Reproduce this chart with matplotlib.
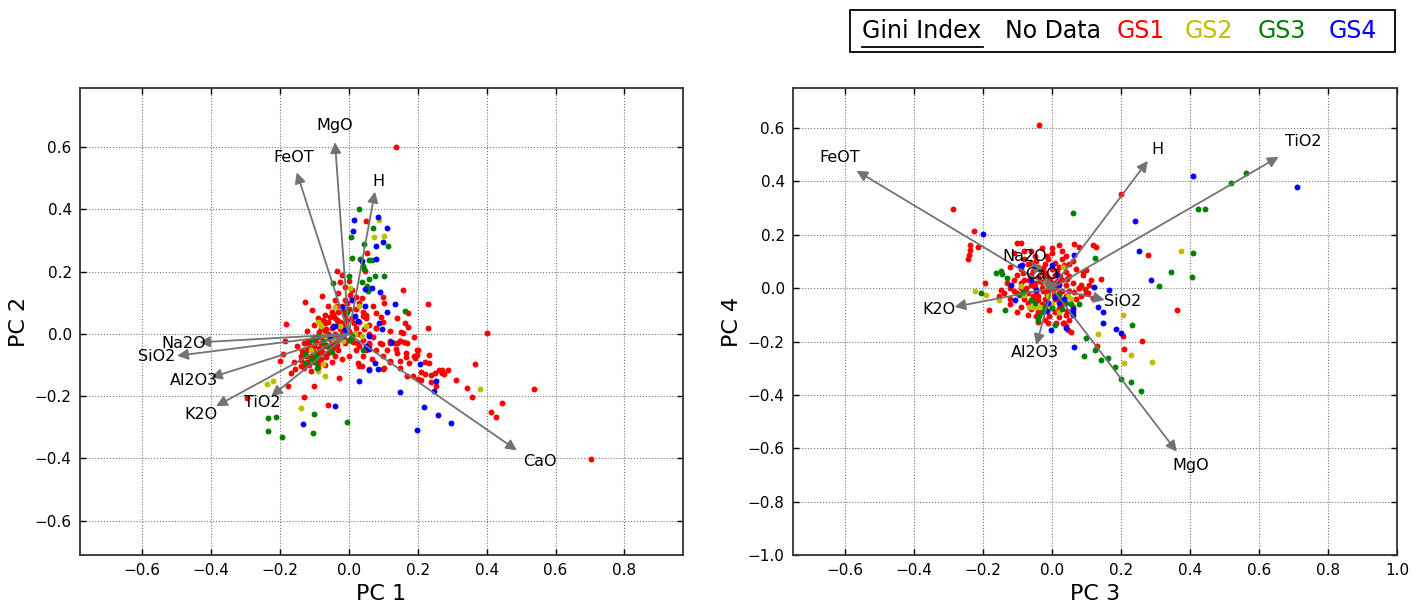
import matplotlib.pyplot as plt
import numpy as np
from matplotlib.patches import Rectangle
from matplotlib.lines import Line2D

# ---------------- data: PC1 / PC2 ----------------
pc12_gs1 = [
    (0.137, 0.60), (0.049, 0.362), (0.054, 0.259), (0.048, 0.202), (-0.035, 0.202), (-0.026, 0.168),
    (-0.078, 0.122), (-0.126, 0.103), (-0.106, 0.078), (0.037, 0.115), (0.102, 0.10), (0.08, 0.067),
    (0.093, 0.056), (-0.181, 0.033), (-0.296, -0.206), (-0.131, -0.204), (-0.059, -0.227), (-0.101, -0.166),
    (-0.177, -0.166), (-0.027, -0.142), (-0.186, -0.022), (-0.20, -0.086), (-0.191, -0.065), (-0.167, -0.124),
    (-0.157, -0.111), (-0.138, -0.102), (0.027, -0.092), (0.037, -0.102), (0.066, -0.081), (0.102, -0.11),
    (0.119, -0.022), (0.148, -0.022), (0.153, 0.005), (0.138, -0.049), (0.095, -0.033), (0.158, 0.141),
    (0.172, 0.066), (0.229, 0.095), (0.163, 0.034), (0.172, 0.023), (0.229, 0.02), (0.158, 0.004),
    (0.189, -0.01), (0.40, 0.003), (0.148, -0.024), (0.16, -0.025), (0.168, -0.03), (0.199, -0.052),
    (0.166, -0.062), (0.232, -0.066), (0.199, -0.069), (0.193, -0.078), (0.166, -0.074), (0.221, -0.09),
    (0.232, -0.093), (0.175, -0.093), (0.15, -0.108), (0.365, -0.095), (0.262, -0.117), (0.27, -0.115),
    (0.27, -0.125), (0.277, -0.128), (0.289, -0.117), (0.21, -0.121), (0.187, -0.136), (0.24, -0.132),
    (0.209, -0.148), (0.312, -0.147), (0.24, -0.155), (0.254, -0.168), (0.343, -0.172), (0.357, -0.202),
    (0.538, -0.176), (0.444, -0.223), (0.413, -0.25), (0.426, -0.267), (0.703, -0.403),
    (0.139, -0.03), (0.119, -0.028), (0.042, 0.058), (0.05, 0.06), (0.06, 0.03), (0.08, 0.02),
    (0.012, -0.027), (0.03, -0.04), (0.05, -0.05), (0.06, -0.035), (0.0, -0.02), (0.03, -0.104),
    (0.06, -0.113), (0.10, -0.113), (0.12, -0.086), (0.15, -0.086), (0.17, -0.135), (0.20, -0.146),
    (0.22, -0.13), (0.25, -0.125), (0.19, -0.07), (0.20, -0.05),
    # dense core
    (-0.02, 0.19), (0.0, 0.17), (-0.01, 0.15), (0.01, 0.14), (-0.03, 0.13), (0.02, 0.12), (-0.04, 0.11),
    (-0.01, 0.11), (0.03, 0.10), (-0.06, 0.09), (-0.02, 0.09), (0.0, 0.08), (0.02, 0.08), (-0.05, 0.07),
    (-0.03, 0.07), (0.04, 0.07), (-0.07, 0.06), (-0.01, 0.06), (0.01, 0.05), (-0.04, 0.05), (-0.09, 0.05),
    (0.05, 0.05), (0.03, 0.04), (-0.06, 0.04), (-0.03, 0.03), (-0.10, 0.03), (-0.08, 0.02), (-0.05, 0.02),
    (-0.01, 0.02), (0.02, 0.02), (-0.12, 0.01), (-0.07, 0.01), (-0.04, 0.0), (-0.02, 0.0), (0.0, 0.01),
    (0.03, 0.0), (-0.09, -0.01), (-0.06, -0.01), (-0.11, -0.02), (-0.03, -0.02), (0.01, -0.02),
    (0.04, -0.02), (-0.08, -0.03), (-0.05, -0.03), (-0.13, -0.03), (-0.01, -0.03), (0.06, -0.03),
    (-0.10, -0.04), (-0.07, -0.04), (-0.03, -0.05), (0.02, -0.05), (-0.15, -0.04), (0.08, -0.05),
    (-0.12, -0.05), (-0.09, -0.06), (-0.06, -0.06), (-0.04, -0.07), (-0.11, -0.07), (-0.14, -0.07),
    (-0.08, -0.08), (-0.10, -0.09), (-0.12, -0.09), (-0.07, -0.10), (-0.05, -0.09), (-0.13, -0.11),
    (-0.09, -0.11), (-0.02, -0.08), (0.0, -0.07), (0.04, -0.07), (-0.16, -0.09), (-0.11, -0.12),
    (0.06, 0.0), (0.08, 0.02), (0.10, 0.04), (0.12, 0.01), (0.07, -0.01), (0.09, -0.03), (0.11, -0.05),
    (0.13, -0.03), (0.10, -0.07), (0.12, -0.09), (0.14, 0.05), (0.10, 0.12), (0.14, -0.06), (0.07, 0.09),
    (-0.06, 0.0), (-0.08, -0.05), (-0.1, -0.01), (-0.045, -0.045), (-0.07, 0.035), (-0.025, 0.04),
    (-0.115, -0.035), (-0.095, -0.075), (-0.065, -0.075), (-0.135, -0.055), (0.015, 0.035),
    (-0.055, 0.055), (-0.035, 0.045), (-0.015, 0.035), (-0.045, 0.025), (-0.025, 0.015), (-0.065, 0.015),
    (-0.085, 0.005), (-0.055, -0.015), (-0.035, -0.005), (-0.015, -0.015), (-0.075, -0.02), (-0.095, -0.025),
    (-0.065, -0.035), (-0.045, -0.025), (-0.105, -0.055), (-0.085, -0.045), (-0.125, -0.07), (-0.105, -0.08),
    (-0.085, -0.09), (-0.115, -0.1), (-0.075, -0.06), (-0.055, -0.05), (-0.035, -0.035), (-0.005, 0.045),
    (-0.015, 0.075), (-0.035, 0.09), (-0.005, 0.1), (0.005, 0.125), (-0.045, 0.06), (-0.075, 0.045),
    (0.015, 0.0), (0.025, -0.03), (0.045, 0.015), (-0.14, -0.085), (-0.09, -0.095), (-0.12, -0.025),
]
pc12_gs2 = [
    (0.087, 0.366), (0.103, 0.315), (0.072, 0.31), (0.004, 0.149), (0.029, 0.09), (-0.237, -0.162),
    (-0.219, -0.151), (-0.138, -0.238), (-0.07, -0.134), (-0.089, -0.118), (-0.089, 0.037), (-0.08, 0.026),
    (-0.07, -0.006), (-0.041, 0.085), (-0.026, 0.026), (-0.017, -0.022), (0.017, 0.0), (0.037, -0.006),
    (-0.046, -0.017), (-0.075, -0.097), (0.381, -0.176), (0.051, 0.026), (-0.11, -0.05),
]
pc12_gs3 = [
    (0.03, 0.40), (0.07, 0.34), (0.006, 0.313), (0.043, 0.288), (0.114, 0.283), (0.01, 0.245),
    (0.033, 0.242), (0.058, 0.238), (0.066, 0.236), (0.041, 0.217), (0.043, 0.21), (0.076, 0.185),
    (0.101, 0.185), (0.002, 0.187), (0.058, 0.178), (0.037, 0.168), (-0.046, 0.164), (0.054, 0.155),
    (0.056, 0.139), (-0.006, 0.071), (-0.235, -0.27), (-0.21, -0.266), (-0.233, -0.311), (-0.193, -0.332),
    (-0.101, -0.257), (-0.105, -0.318), (-0.006, -0.284), (-0.089, -0.006), (-0.106, -0.019),
    (-0.075, -0.027), (-0.058, -0.041), (-0.128, -0.065), (-0.109, -0.081), (-0.094, -0.07),
    (-0.126, -0.092), (-0.099, -0.089), (0.003, -0.021), (0.008, -0.006), (0.042, -0.051),
    (-0.05, -0.059), (-0.093, -0.11), (0.163, 0.075),
]
pc12_gs4 = [
    (0.085, 0.377), (0.015, 0.366), (0.112, 0.341), (0.011, 0.33), (0.099, 0.294), (0.079, 0.283),
    (0.039, 0.235), (0.079, 0.24), (0.048, 0.144), (0.068, 0.149), (0.091, 0.134), (0.01, 0.108),
    (-0.019, 0.088), (0.134, 0.095), (0.046, 0.09), (0.11, 0.071), (0.017, 0.058), (0.027, 0.042),
    (0.088, 0.035), (0.095, 0.015), (0.058, -0.006), (0.122, -0.025), (0.051, -0.038), (0.06, -0.047),
    (0.076, -0.092), (0.06, -0.116), (0.085, -0.113), (0.029, -0.151), (0.15, -0.185), (-0.039, -0.23),
    (-0.132, -0.29), (-0.046, 0.021), (-0.041, 0.026), (-0.055, -0.006), (-0.017, -0.006),
    (-0.012, 0.013), (0.206, -0.097), (0.252, -0.15), (0.247, -0.184), (0.218, -0.235), (0.26, -0.26),
    (0.296, -0.286), (0.199, -0.309),
]
pc12_vars = ["MgO", "FeOT", "H", "Na2O", "SiO2", "Al2O3", "K2O", "TiO2", "CaO"]
pc12_tips = [(-0.04, 0.616), (-0.151, 0.519), (0.076, 0.457), (-0.434, -0.027), (-0.498, -0.07),
             (-0.40, -0.14), (-0.385, -0.232), (-0.225, -0.20), (0.488, -0.374)]
pc12_text = [(-0.04, 0.671), (-0.16, 0.568), (0.087, 0.49), (-0.48, -0.03), (-0.558, -0.072),
             (-0.45, -0.15), (-0.43, -0.26), (-0.25, -0.22), (0.555, -0.41)]

# ---------------- data: PC3 / PC4 ----------------
pc34_gs1 = [
    (-0.036, 0.613), (-0.287, 0.298), (0.20, 0.351), (-0.225, 0.215), (-0.215, 0.156), (-0.237, 0.163),
    (-0.237, 0.144), (-0.241, 0.125), (-0.243, 0.109), (-0.089, 0.169), (0.063, 0.166), (0.078, 0.153),
    (0.12, 0.163), (0.128, 0.155), (-0.193, 0.019), (-0.181, -0.081), (0.143, 0.035), (0.112, 0.031),
    (0.089, 0.062), (0.099, 0.069), (0.085, 0.01), (0.109, 0.01), (0.12, -0.037), (-0.154, -0.031),
    (0.21, -0.228), (0.131, -0.215), (0.205, -0.181), (0.031, -0.131), (0.041, -0.141), (0.056, -0.165),
    (0.012, -0.131), (-0.007, -0.106), (-0.012, -0.131), (0.279, 0.125), (0.362, -0.081), (0.262, -0.198),
    (-0.147, -0.006), (0.048, -0.158), (0.036, -0.13), (-0.04, -0.125), (-0.045, -0.106), (0.085, -0.03),
    (0.105, -0.02), (0.08, 0.0), (0.095, -0.005),
    # dense core
    (-0.10, 0.17), (-0.06, 0.14), (-0.03, 0.15), (0.0, 0.13), (0.02, 0.16), (0.04, 0.12), (-0.08, 0.11),
    (-0.05, 0.12), (0.06, 0.10), (-0.11, 0.13), (0.03, 0.14), (-0.01, 0.11), (-0.12, 0.08), (-0.09, 0.07),
    (-0.07, 0.09), (-0.04, 0.08), (-0.02, 0.09), (0.0, 0.07), (0.02, 0.08), (0.04, 0.06), (0.07, 0.07),
    (-0.10, 0.05), (-0.06, 0.05), (-0.03, 0.06), (0.01, 0.05), (0.05, 0.09), (0.09, 0.05), (-0.13, 0.02),
    (-0.11, 0.03), (-0.08, 0.03), (-0.05, 0.02), (-0.02, 0.03), (0.0, 0.02), (0.03, 0.03), (0.06, 0.02),
    (-0.09, 0.0), (-0.06, 0.01), (-0.03, 0.0), (0.01, 0.0), (0.04, 0.01), (0.08, 0.0), (-0.12, 0.0),
    (-0.015, 0.045), (0.025, 0.045), (-0.04, 0.04), (-0.10, -0.02), (-0.07, -0.02), (-0.04, -0.03),
    (-0.01, -0.01), (0.02, -0.02), (0.05, -0.01), (-0.12, -0.04), (-0.08, -0.04), (-0.05, -0.05),
    (-0.02, -0.04), (0.01, -0.04), (0.04, -0.03), (0.07, -0.04), (0.10, -0.02), (-0.14, -0.02),
    (0.0, -0.005), (-0.09, -0.07), (-0.06, -0.08), (-0.03, -0.06), (0.0, -0.07), (0.03, -0.06),
    (0.06, -0.07), (-0.10, -0.09), (-0.04, -0.09), (0.01, -0.09), (0.04, -0.10), (-0.07, -0.10),
    (0.02, -0.11), (-0.02, -0.12), (0.05, -0.12), (-0.12, -0.06), (-0.055, 0.065), (-0.025, 0.015),
    (0.015, 0.025), (-0.045, -0.015), (-0.015, -0.025), (0.025, -0.045), (-0.075, 0.0), (0.045, 0.035),
    (-0.065, 0.03), (-0.035, 0.025), (-0.005, 0.035), (0.015, 0.065), (-0.025, 0.075), (-0.045, 0.1),
    (-0.015, 0.12), (0.01, 0.095), (0.035, 0.085), (-0.085, 0.055), (-0.055, -0.03), (-0.025, -0.01),
    (0.005, -0.025), (0.03, -0.01), (-0.07, -0.055), (-0.04, -0.045), (-0.01, -0.055), (0.02, -0.075),
    (-0.05, 0.005), (-0.02, 0.055), (0.05, 0.045), (0.065, -0.015), (-0.09, 0.02), (-0.11, -0.01),
    (-0.03, -0.085), (0.045, -0.085), (-0.06, 0.095), (0.0, 0.15), (-0.08, 0.14), (0.03, 0.11),
]
pc34_gs2 = [
    (-0.222, -0.012), (-0.191, -0.025), (-0.154, -0.044), (0.031, 0.078), (0.205, -0.10), (0.133, -0.171),
    (0.21, -0.281), (0.229, -0.252), (-0.089, 0.009), (-0.08, -0.025), (-0.065, -0.069), (-0.055, -0.072),
    (-0.045, -0.07), (-0.035, -0.072), (0.022, -0.091), (0.046, -0.031), (0.375, 0.141), (0.29, -0.278),
    (-0.01, -0.03), (0.0, -0.06), (-0.02, 0.02), (0.055, -0.04),
]
pc34_gs3 = [
    (0.062, 0.282), (0.124, 0.114), (-0.162, 0.056), (-0.146, 0.064), (-0.145, 0.052), (-0.131, 0.038),
    (-0.204, -0.019), (-0.136, -0.083), (0.099, -0.187), (0.125, -0.231), (0.094, -0.256), (0.142, -0.269),
    (0.163, -0.262), (0.183, -0.297), (0.20, -0.341), (0.229, -0.35), (0.232, -0.137), (0.08, -0.059),
    (0.055, -0.059), (-0.027, -0.091), (-0.036, -0.106), (-0.041, -0.121), (0.01, -0.137), (-0.094, -0.025),
    (-0.083, -0.016), (-0.06, -0.044), (-0.048, -0.056), (0.022, -0.025), (0.041, -0.056), (0.562, 0.431),
    (0.518, 0.394), (0.423, 0.297), (0.444, 0.296), (0.408, 0.132), (0.344, 0.061), (0.309, 0.009),
    (0.406, 0.043), (0.257, -0.387), (0.0, -0.075), (0.03, -0.08), (-0.02, -0.07), (0.06, -0.09),
]
pc34_gs4 = [
    (-0.20, 0.203), (0.241, 0.253), (0.252, 0.139), (0.065, 0.123), (-0.091, 0.082), (-0.086, 0.087),
    (0.165, -0.006), (0.133, -0.072), (0.149, -0.09), (0.147, -0.132), (0.186, -0.153), (0.20, -0.169),
    (0.063, -0.221), (-0.002, -0.156), (0.041, -0.15), (0.062, -0.078), (0.06, -0.10), (0.122, 0.003),
    (0.022, 0.013), (0.0, 0.088), (-0.118, 0.01), (-0.106, -0.044), (-0.046, -0.006), (0.008, -0.035),
    (-0.012, -0.056), (-0.015, -0.087), (0.022, -0.056), (0.41, 0.421), (0.709, 0.379), (0.286, 0.029),
    (0.058, -0.09), (0.035, -0.04), (-0.06, 0.03), (0.015, 0.05),
]
pc34_vars = ["FeOT", "H", "TiO2", "MgO", "SiO2", "K2O", "Al2O3", "Na2O", "CaO"]
pc34_tips = [(-0.566, 0.44), (0.278, 0.477), (0.657, 0.492), (0.362, -0.613), (0.153, -0.044),
             (-0.282, -0.07), (-0.045, -0.213), (-0.06, 0.10), (-0.02, 0.04)]
pc34_text = [(-0.616, 0.489), (0.307, 0.519), (0.727, 0.549), (0.402, -0.663), (0.205, -0.05),
             (-0.326, -0.08), (-0.05, -0.24), (-0.079, 0.117), (-0.03, 0.05)]

colors = {"GS1": "#ff0000", "GS2": "#bfbf00", "GS3": "#008000", "GS4": "#0000ff"}


def biplot(ax, groups, names, tips, text_pos, xlim, ylim, xticks, yticks, xlabel, ylabel):
    for key, pts in groups:
        arr = np.array(pts)
        ax.scatter(arr[:, 0], arr[:, 1], s=18, c=colors[key], linewidths=0, zorder=2)
    for name, tip, tp in zip(names, tips, text_pos):
        ax.annotate("", xy=tip, xytext=(0, 0),
                    arrowprops=dict(arrowstyle="-|>", color="0.45", lw=1.3, mutation_scale=16,
                                    shrinkA=0, shrinkB=0), zorder=3)
        ax.text(tp[0], tp[1], name, fontsize=11.5, ha="center", va="center", zorder=4)
    ax.set_xlim(*xlim)
    ax.set_ylim(*ylim)
    ax.set_xticks(xticks)
    ax.set_yticks(yticks)
    ax.grid(True, linestyle=":", color="0.45", lw=0.8)
    ax.set_axisbelow(True)
    ax.tick_params(direction="in", top=True, right=True, labelsize=11, length=4, width=1, pad=6)
    for sp in ax.spines.values():
        sp.set_linewidth(1.3)
        sp.set_color("0.2")
    ax.set_xlabel(xlabel, fontsize=16)
    ax.set_ylabel(ylabel, fontsize=16)


fig = plt.figure(figsize=(14.26, 6.07), dpi=100)
W, H = 1426, 607
ax1 = fig.add_axes([80 / W, 1 - 555 / H, 603 / W, 467 / H])
ax2 = fig.add_axes([793 / W, 1 - 555 / H, 604 / W, 467 / H])

biplot(ax1, [("GS1", pc12_gs1), ("GS2", pc12_gs2), ("GS3", pc12_gs3), ("GS4", pc12_gs4)],
       pc12_vars, pc12_tips, pc12_text, (-0.78, 0.97), (-0.71, 0.79),
       np.arange(-0.6, 0.81, 0.2), np.arange(-0.6, 0.61, 0.2), "PC 1", "PC 2")
biplot(ax2, [("GS1", pc34_gs1), ("GS2", pc34_gs2), ("GS3", pc34_gs3), ("GS4", pc34_gs4)],
       pc34_vars, pc34_tips, pc34_text, (-0.75, 1.0), (-1.0, 0.75),
       np.arange(-0.6, 1.01, 0.2), np.arange(-1.0, 0.61, 0.2), "PC 3", "PC 4")

# legend box on top
fig.patches.append(Rectangle((850 / W, 1 - 52 / H), 545 / W, 42 / H, transform=fig.transFigure,
                             fill=False, edgecolor="black", lw=1.3))
leg_items = [("Gini Index", "black", 862), ("No Data", "black", 1005), ("GS1", colors["GS1"], 1117),
             ("GS2", colors["GS2"], 1185), ("GS3", colors["GS3"], 1258), ("GS4", colors["GS4"], 1329)]
for label, col, px in leg_items:
    fig.text(px / W, 1 - 31 / H, label, color=col, fontsize=17, ha="left", va="center")
fig.lines.append(Line2D([862 / W, 983 / W], [1 - 47 / H, 1 - 47 / H], transform=fig.transFigure,
                        color="black", lw=1.3))

fig.savefig("out.png", dpi=100)
